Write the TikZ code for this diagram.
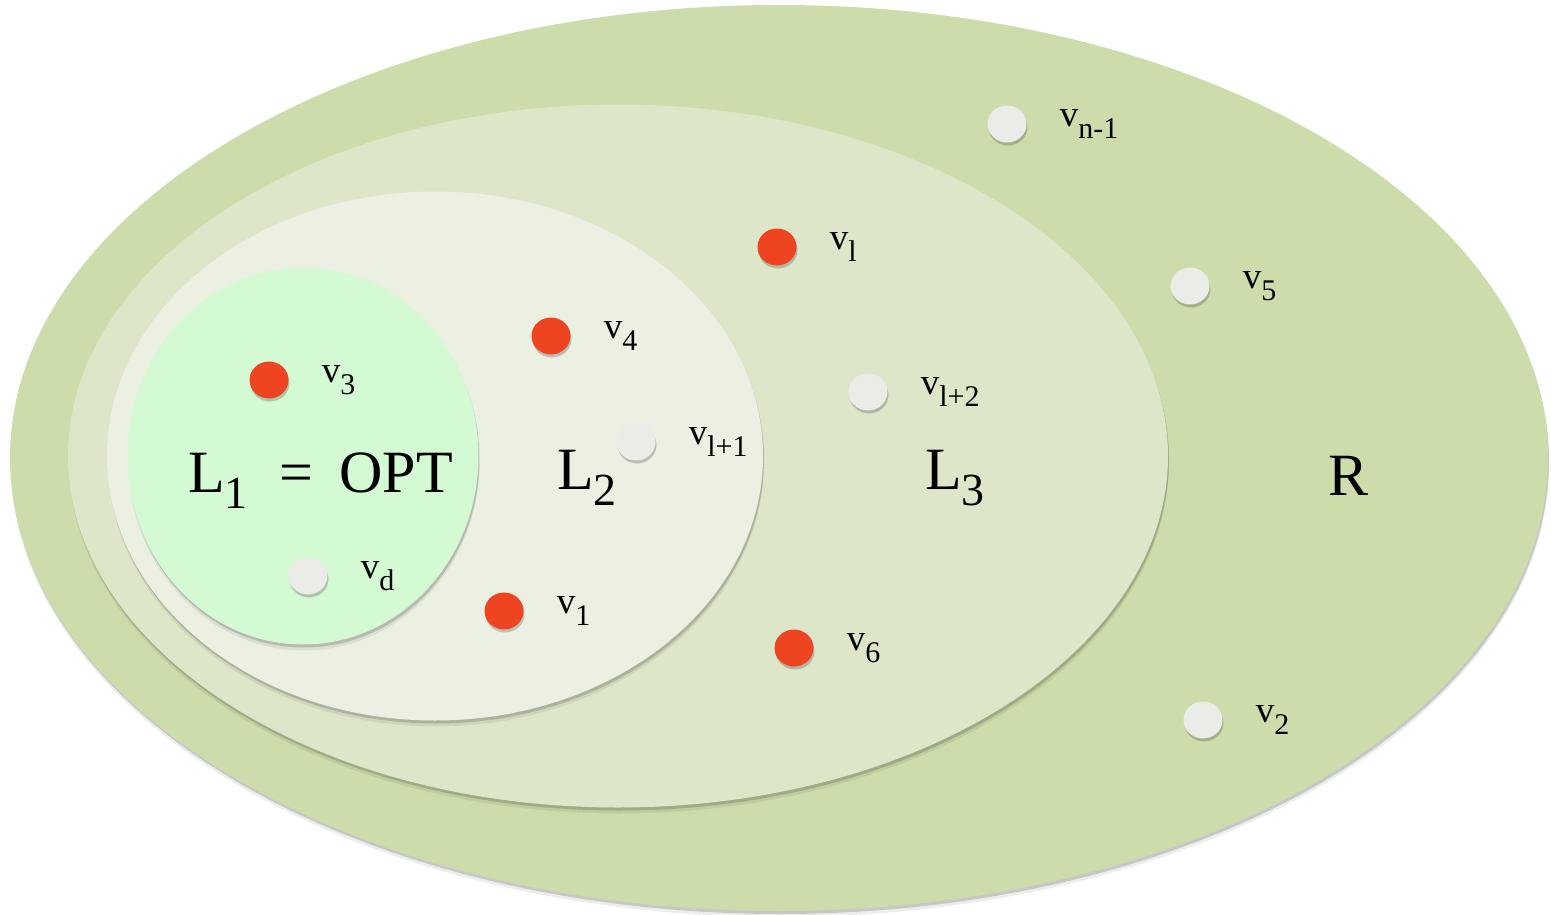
\documentclass[tikz,border=0pt]{standalone}
\usepackage{fontspec}
\setmainfont{Liberation Serif}
\usetikzlibrary{shapes.geometric,positioning,shadows}
\definecolor{setR}{HTML}{CDDCAB}
\definecolor{setLiii}{HTML}{DDE6C9}
\definecolor{setLii}{HTML}{ECF0E2}
\definecolor{setLi}{HTML}{D4FAD4}
\definecolor{dotred}{HTML}{EE4422}
\definecolor{dotwhite}{HTML}{EBECE7}
\newcommand{\vlab}[1]{v\raisebox{-12pt}{\fontsize{30}{32}\selectfont #1}}
\newcommand{\Llab}[1]{L\raisebox{-16pt}{\fontsize{46}{50}\selectfont #1}}

\begin{document}
\begin{tikzpicture}[
  x=1pt, y=-1pt,
  soft/.style={drop shadow={shadow xshift=1pt, shadow yshift=-3pt, fill=black, opacity=.16},
               drop shadow={shadow xshift=1pt, shadow yshift=-6pt, fill=black, opacity=.07}},
  setbox/.style={ellipse, inner sep=0pt, soft},
  big/.style={inner sep=0pt, font=\fontsize{60}{64}\selectfont},
  vtx/.style={ellipse, inner sep=0pt, minimum width=39pt, minimum height=37pt,
              drop shadow={shadow xshift=1pt, shadow yshift=-3pt, fill=black, opacity=.2}},
  red/.style={vtx, fill=dotred},
  wht/.style={vtx, fill=dotwhite},
  lbl/.style={inner sep=0pt, font=\fontsize{37}{40}\selectfont},
]
\useasboundingbox (0,0) rectangle (1551,915);

\node[setbox, fill=setR,    minimum width=1538pt, minimum height=906pt] (R)  at (779,458) {};
\node[setbox, fill=setLiii, minimum width=1100pt, minimum height=703pt] (L3) at (618,456) {};
\node[setbox, fill=setLii,  minimum width=656pt,  minimum height=529pt] (L2) at (435,456) {};
\node[setbox, fill=setLi,   minimum width=351pt,  minimum height=377pt] (L1) at (303,456) {};

\node[big, anchor=base] (tR)  at (1348,495) {R};
\node[big, anchor=base] (tL3) at (955,489) {\Llab{3}};
\node[big, anchor=base] (tL2) at (587,489) {\Llab{2}};
\node[big, anchor=base west] (tL1) at (188,492) {\Llab{1}\hspace{32pt}=\hspace{26pt}OPT};

\node[wht] (vn1) at (1007,124) {};
\node[red] (vl)  at (777,247) {};
\node[wht] (v5)  at (1190,286) {};
\node[red] (v4)  at (551,336) {};
\node[red] (v3)  at (269,380) {};
\node[wht] (vl2) at (868,392) {};
\node[wht] (vl1) at (636,442) {};
\node[wht] (vd)  at (308,576) {};
\node[red] (v1)  at (504,611) {};
\node[red] (v6)  at (794,648) {};
\node[wht] (v2)  at (1203,720) {};

\node[lbl, right=33pt of vn1] (tn1) {\vlab{n-1}};
\node[lbl, right=33pt of vl]  (tl)  {\vlab{l}};
\node[lbl, right=33pt of v5]  (t5)  {\vlab{5}};
\node[lbl, right=33pt of v4]  (t4)  {\vlab{4}};
\node[lbl, right=33pt of v3]  (t3)  {\vlab{3}};
\node[lbl, right=33pt of vl2] (tl2) {\vlab{l+2}};
\node[lbl, right=33pt of vl1] (tl1) {\vlab{l+1}};
\node[lbl, right=33pt of vd]  (td)  {\vlab{d}};
\node[lbl, right=33pt of v1]  (t1)  {\vlab{1}};
\node[lbl, right=33pt of v6]  (t6)  {\vlab{6}};
\node[lbl, right=33pt of v2]  (t2)  {\vlab{2}};

\end{tikzpicture}
\end{document}
